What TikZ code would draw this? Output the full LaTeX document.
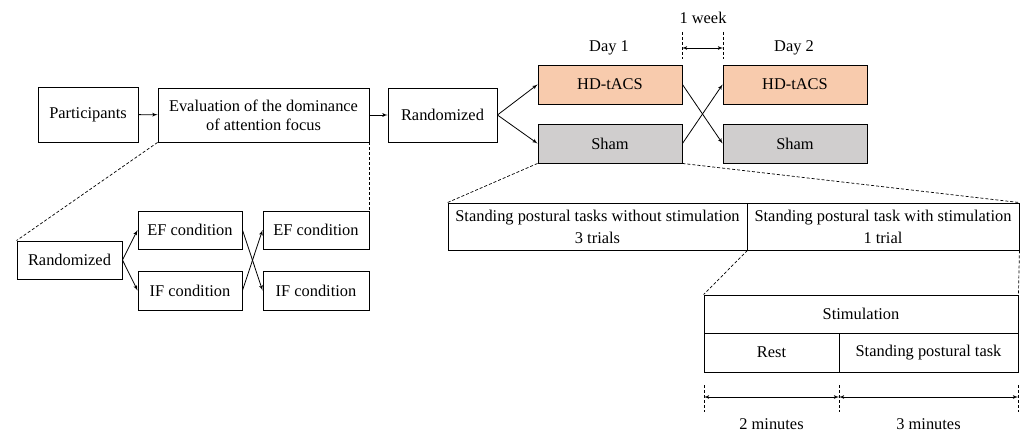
\documentclass[tikz,border=0pt]{standalone}
\usepackage{fontspec}
\setmainfont{Liberation Serif}
\usepackage{tikz}
\usetikzlibrary{arrows,calc}
\definecolor{hdfill}{HTML}{F8CBAD}
\definecolor{shamfill}{HTML}{D0CECE}

\begin{document}
\begin{tikzpicture}
[x=1pt,y=-1pt,
font=\fontsize{16.4}{19}\selectfont,
box/.style={draw,line width=0.9pt,inner sep=0pt,align=center},
hdBox/.style={box,fill=hdfill},
shamBox/.style={box,fill=shamfill},
link/.style={line width=0.8pt,->,>=latex'},
dimLine/.style={line width=0.8pt,<->,>=latex'},
zoomLine/.style={line width=0.7pt,dash pattern=on 3pt off 2pt},
label/.style={inner sep=0pt}]
\useasboundingbox (0,0) rectangle (1026,433);
\node[box,minimum width=100pt,minimum height=55pt] (part) at (88,114.5) {Participants};
\node[box,minimum width=211pt,minimum height=54pt] (eval) at (263.5,115) {Evaluation of the dominance\\of attention focus};
\node[box,minimum width=109pt,minimum height=54pt] (rand) at (442.5,115) {Randomized};
\node[hdBox,minimum width=144pt,minimum height=39pt] (hd1) at (610,84.5) {HD-tACS};
\node[shamBox,minimum width=144pt,minimum height=39pt] (sham1) at (610,143.5) {Sham};
\node[hdBox,minimum width=144pt,minimum height=39pt] (hd2) at (795,84.5) {HD-tACS};
\node[shamBox,minimum width=144pt,minimum height=39pt] (sham2) at (795,143.5) {Sham};
\node[label] (day1) at (609,48) {Day 1};
\node[label] (day2) at (794,48) {Day 2};
\node[label] (week) at (703,18) {1 week};
\coordinate (w1top) at (682,32);
\coordinate (w1bot) at (682,59);
\coordinate (w2top) at (723,32);
\coordinate (w2bot) at (723,59);
\coordinate (w1mid) at (682,48);
\coordinate (w2mid) at (723,48);

\node[box,minimum width=105pt,minimum height=38pt] (randL) at (69.5,260) {Randomized};
\node[box,minimum width=104pt,minimum height=38pt] (ef1) at (190,230) {EF condition};
\node[box,minimum width=104pt,minimum height=39pt] (if1) at (190,290.5) {IF condition};
\node[box,minimum width=106pt,minimum height=38pt] (ef2) at (316,230) {EF condition};
\node[box,minimum width=106pt,minimum height=39pt] (if2) at (316,290.5) {IF condition};

\node[box,minimum width=299pt,minimum height=47pt] (stdA) at (597.5,226.5) {Standing postural tasks without stimulation\\[3pt]3 trials};
\node[box,minimum width=272pt,minimum height=47pt] (stdB) at (883,226.5) {Standing postural task with stimulation\\[3pt]1 trial};
\node[box,minimum width=314pt,minimum height=38pt] (stim) at (861,314) {Stimulation};
\node[box,minimum width=135pt,minimum height=39pt] (rest) at (771.5,352.5) {Rest};
\node[box,minimum width=179pt,minimum height=39pt] (task) at (928.5,352.5) {Standing postural task};
\coordinate (t0top) at (704,385);
\coordinate (t0bot) at (704,412);
\coordinate (t1top) at (839,385);
\coordinate (t1bot) at (839,412);
\coordinate (t2top) at (1018,385);
\coordinate (t2bot) at (1018,412);
\coordinate (t0) at (704,397);
\coordinate (t1) at (839,397);
\coordinate (t2) at (1018,397);
\node[label] (min2) at (771.5,424.5) {2 minutes};
\node[label] (min3) at (928.5,424.5) {3 minutes};

\draw[link] (part) -- (eval);
\draw[link] (eval) -- (rand);
\draw[link] (rand.east) -- (hd1.west);
\draw[link] (rand.east) -- (sham1.west);
\draw[link] (hd1.east) -- (sham2.west);
\draw[link] (sham1.east) -- (hd2.west);
\draw[zoomLine] (w1top) -- (w1bot);
\draw[zoomLine] (w2top) -- (w2bot);
\draw[dimLine] (w1mid) -- (w2mid);

\draw[link] (randL.east) -- (ef1.west);
\draw[link] (randL.east) -- (if1.west);
\draw[link] (ef1.east) -- (if2.west);
\draw[link] (if1.east) -- (ef2.west);

\draw[zoomLine] (eval.south west) -- (randL.north west);
\draw[zoomLine] (eval.south east) -- (ef2.north east);
\draw[zoomLine] (sham1.south west) -- (stdA.north west);
\draw[zoomLine] (sham1.south east) -- (stdB.north east);
\draw[zoomLine] (stdA.south east) -- (stim.north west);
\draw[zoomLine] (stdB.south east) -- (stim.north east);

\draw[zoomLine] (t0top) -- (t0bot);
\draw[zoomLine] (t1top) -- (t1bot);
\draw[zoomLine] (t2top) -- (t2bot);
\draw[dimLine] (t0) -- (t1);
\draw[dimLine] (t1) -- (t2);
\end{tikzpicture}
\end{document}
